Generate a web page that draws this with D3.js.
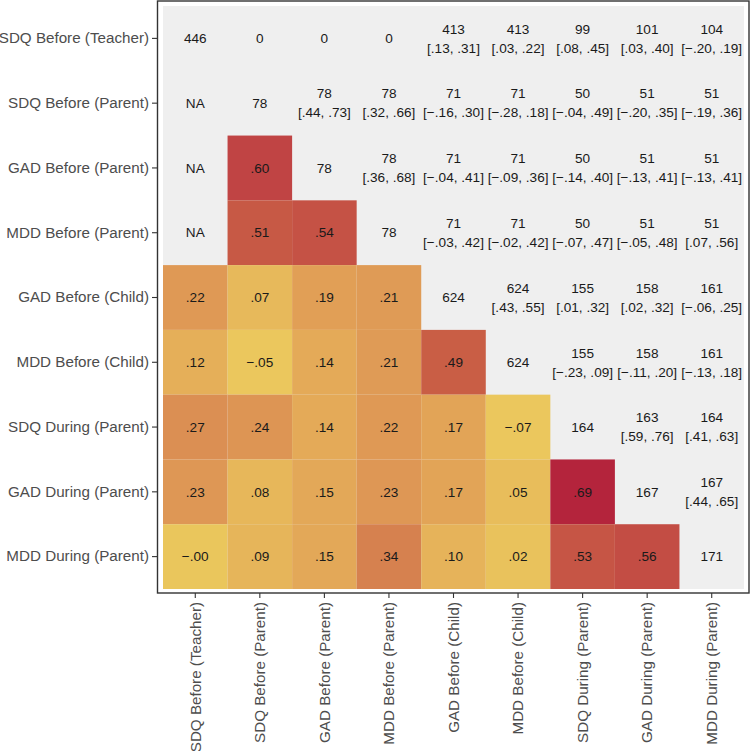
<!DOCTYPE html>
<html>
<head>
<meta charset="utf-8">
<script src="https://cdn.jsdelivr.net/npm/d3@7"></script>
<style>
  html, body { margin: 0; padding: 0; background: #ffffff; }
  svg { display: block; }
</style>
</head>
<body>
<svg id="chart" width="751" height="751"></svg>
<script>
// ---------- data ----------
const variables = [
  "SDQ Before (Teacher)", "SDQ Before (Parent)", "GAD Before (Parent)",
  "MDD Before (Parent)", "GAD Before (Child)", "MDD Before (Child)",
  "SDQ During (Parent)", "GAD During (Parent)", "MDD During (Parent)"
];

// lower triangle correlations (row i, columns 0..i-1); null = NA
const correlations = [
  [],
  [null],
  [null, 0.60],
  [null, 0.51, 0.54],
  [0.22, 0.07, 0.19, 0.21],
  [0.12, -0.05, 0.14, 0.21, 0.49],
  [0.27, 0.24, 0.14, 0.22, 0.17, -0.07],
  [0.23, 0.08, 0.15, 0.23, 0.17, 0.05, 0.69],
  [-0.00, 0.09, 0.15, 0.34, 0.10, 0.02, 0.53, 0.56]
];

// upper triangle incl. diagonal: sample sizes (row i, columns i..8)
const sampleSizes = [
  [446, 0, 0, 0, 413, 413, 99, 101, 104],
  [78, 78, 78, 71, 71, 50, 51, 51],
  [78, 78, 71, 71, 50, 51, 51],
  [78, 71, 71, 50, 51, 51],
  [624, 624, 155, 158, 161],
  [624, 155, 158, 161],
  [164, 163, 164],
  [167, 167],
  [171]
];

// confidence interval bounds for the upper triangle (row i, columns i+1..8); null = none
const ciLower = [
  [null, null, null, 0.13, 0.03, 0.08, 0.03, -0.20],
  [0.44, 0.32, -0.16, -0.28, -0.04, -0.20, -0.19],
  [0.36, -0.04, -0.09, -0.14, -0.13, -0.13],
  [-0.03, -0.02, -0.07, -0.05, 0.07],
  [0.43, 0.01, 0.02, -0.06],
  [-0.23, -0.11, -0.13],
  [0.59, 0.41],
  [0.44],
  []
];
const ciUpper = [
  [null, null, null, 0.31, 0.22, 0.45, 0.40, 0.19],
  [0.73, 0.66, 0.30, 0.18, 0.49, 0.35, 0.36],
  [0.68, 0.41, 0.36, 0.40, 0.41, 0.41],
  [0.42, 0.42, 0.47, 0.48, 0.56],
  [0.55, 0.32, 0.32, 0.25],
  [0.09, 0.20, 0.18],
  [0.76, 0.63],
  [0.65],
  []
];

const colorStops = [-0.07, 0.0, 0.10, 0.20, 0.34, 0.49, 0.60, 0.69];
const colorRange = ["#ebc75d", "#eac65c", "#e6b35a", "#e09d56", "#d6814f", "#c95e45", "#c04444", "#b4243c"];

// ---------- helpers ----------
function fmt(v) {
  let s = Math.abs(v).toFixed(2).replace(/^0/, "");
  const neg = v < 0 || Object.is(v, -0);
  return (neg ? "\u2212" : "") + s;
}

// build cell table
const cells = [];
variables.forEach((rowVar, i) => {
  variables.forEach((colVar, j) => {
    if (j < i) {
      const r = correlations[i][j];
      cells.push({ row: rowVar, col: colVar, type: "lower", r: r });
    } else if (j === i) {
      cells.push({ row: rowVar, col: colVar, type: "diag", n: sampleSizes[i][0] });
    } else {
      const k = j - i - 1;
      cells.push({
        row: rowVar, col: colVar, type: "upper",
        n: sampleSizes[i][j - i],
        lo: ciLower[i][k], hi: ciUpper[i][k]
      });
    }
  });
});

// ---------- layout ----------
const svg = d3.select("#chart");
const panel = { left: 163, right: 744, top: 6, bottom: 589 };

const x = d3.scaleBand().domain(variables).range([panel.left, panel.right]).padding(0);
const y = d3.scaleBand().domain(variables).range([panel.top, panel.bottom]).padding(0);
const color = d3.scaleLinear().domain(colorStops).range(colorRange).interpolate(d3.interpolateRgb).clamp(true);

// gray background
svg.append("rect")
  .attr("x", panel.left).attr("y", panel.top)
  .attr("width", panel.right - panel.left).attr("height", panel.bottom - panel.top)
  .attr("fill", "#efefef");

// colored tiles
svg.append("g").selectAll("rect")
  .data(cells.filter(d => d.type === "lower" && d.r !== null))
  .join("rect")
  .attr("x", d => x(d.col))
  .attr("y", d => y(d.row))
  .attr("width", x.bandwidth())
  .attr("height", y.bandwidth())
  .attr("fill", d => color(d.r));

// text
const textG = svg.append("g")
  .attr("font-family", "'Liberation Sans', Arial, Helvetica, sans-serif")
  .attr("font-size", 13.6)
  .attr("fill", "#1a1a1a")
  .attr("text-anchor", "middle");

cells.forEach(d => {
  const cx = x(d.col) + x.bandwidth() / 2;
  const cy = y(d.row) + y.bandwidth() / 2;
  if (d.type === "lower") {
    textG.append("text").attr("x", cx).attr("y", cy).attr("dy", "0.35em")
      .text(d.r === null ? "NA" : fmt(d.r));
  } else if (d.type === "diag" || d.lo === null) {
    textG.append("text").attr("x", cx).attr("y", cy).attr("dy", "0.35em").text(d.n);
  } else {
    textG.append("text").attr("x", cx).attr("y", cy - 9.5).attr("dy", "0.35em").text(d.n);
    textG.append("text").attr("x", cx).attr("y", cy + 9.5).attr("dy", "0.35em")
      .text("[" + fmt(d.lo) + ", " + fmt(d.hi) + "]");
  }
});

// panel border
svg.append("rect")
  .attr("x", 157.5).attr("y", 1)
  .attr("width", 749 - 157.5).attr("height", 593 - 1)
  .attr("fill", "none")
  .attr("stroke", "#333333")
  .attr("stroke-width", 1.4);

// axes
const yAxis = d3.axisLeft(y).tickSize(5).tickPadding(3);
const xAxis = d3.axisBottom(x).tickSize(5).tickPadding(4);

const yg = svg.append("g").attr("transform", "translate(157,0)").call(yAxis);
const xg = svg.append("g").attr("transform", "translate(0,593)").call(xAxis);

[yg, xg].forEach(g => {
  g.select(".domain").remove();
  g.selectAll(".tick line").attr("stroke", "#333333").attr("stroke-width", 1.1);
  g.selectAll(".tick text")
    .attr("fill", "#4d4d4d")
    .attr("font-size", 15.2)
    .attr("font-family", "'Liberation Sans', Arial, Helvetica, sans-serif");
});

xg.selectAll(".tick text")
  .attr("transform", "rotate(-90)")
  .attr("text-anchor", "end")
  .attr("x", -9)
  .attr("y", 0)
  .attr("dy", "0.35em");
</script>
</body>
</html>
